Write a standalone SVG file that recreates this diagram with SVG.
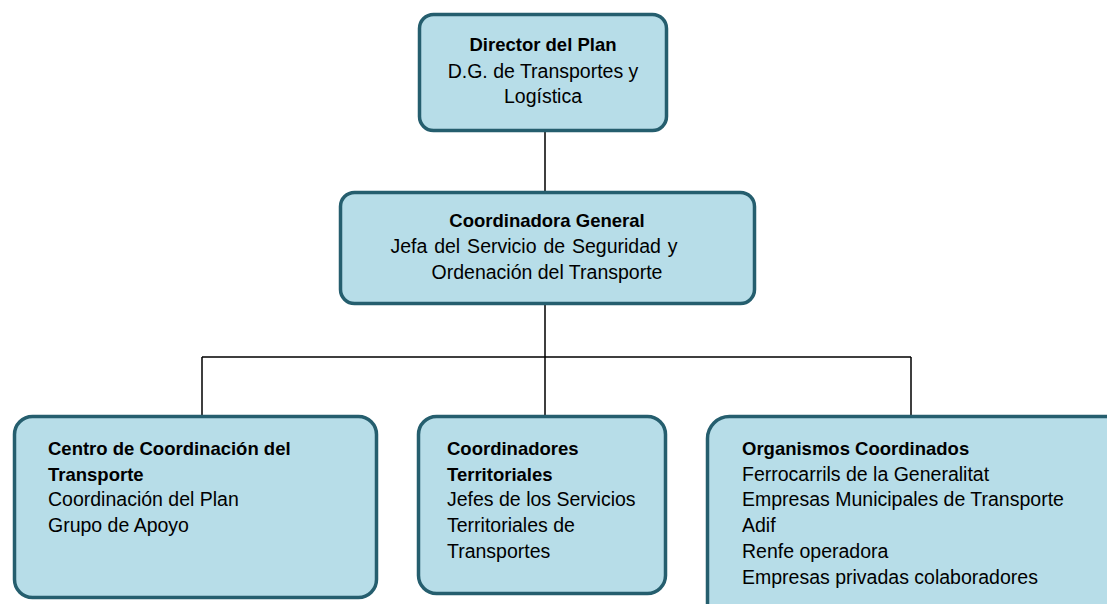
<svg xmlns="http://www.w3.org/2000/svg" width="1107" height="604" viewBox="0 0 1107 604">
<style>
.box{fill:#b7dde8;stroke:#255e6e;stroke-width:3.5}
text{font-family:"Liberation Sans",Arial,sans-serif;font-size:19.5px;fill:#000}
.b{font-weight:bold;font-size:18.5px}
.c{text-anchor:middle}
.ln{stroke:#000;stroke-width:1.5;fill:none}
</style>
<rect width="1107" height="604" fill="#fff"/>
<g id="connectors">
<path class="ln" d="M545 131V192M545 304V416M202 357H911M202 357V416M911 357V416"/>
</g>
<g id="n1">
<rect class="box" x="419.5" y="14.5" width="247" height="116" rx="14"/>
<text class="c b" x="543" y="51">Director del Plan</text>
<text class="c" x="543" y="78">D.G. de Transportes y</text>
<text class="c" x="543" y="103">Logística</text>
</g>
<g id="n2">
<rect class="box" x="340.5" y="192.5" width="414" height="111" rx="14"/>
<text class="c b" x="547" y="227">Coordinadora General</text>
<text class="c" x="534" y="253" word-spacing="1.5">Jefa del Servicio de Seguridad y</text>
<text class="c" x="547" y="279">Ordenación del Transporte</text>
</g>
<g id="n3">
<rect class="box" x="14.5" y="416.5" width="362" height="181" rx="18"/>
<text class="b" x="48" y="455">Centro de Coordinación del</text>
<text class="b" x="48" y="481">Transporte</text>
<text x="48" y="506">Coordinación del Plan</text>
<text x="48" y="532">Grupo de Apoyo</text>
</g>
<g id="n4">
<rect class="box" x="418.5" y="416.5" width="247" height="177" rx="18"/>
<text class="b" x="447" y="455">Coordinadores</text>
<text class="b" x="447" y="481">Territoriales</text>
<text x="447" y="506">Jefes de los Servicios</text>
<text x="447" y="532">Territoriales de</text>
<text x="447" y="558">Transportes</text>
</g>
<g id="n5">
<rect class="box" x="707.5" y="416.5" width="420" height="210" rx="22"/>
<text class="b" x="742" y="455">Organismos Coordinados</text>
<text x="742" y="481">Ferrocarrils de la Generalitat</text>
<text x="742" y="506">Empresas Municipales de Transporte</text>
<text x="742" y="532">Adif</text>
<text x="742" y="558">Renfe operadora</text>
<text x="742" y="584">Empresas privadas colaboradores</text>
</g>
</svg>
